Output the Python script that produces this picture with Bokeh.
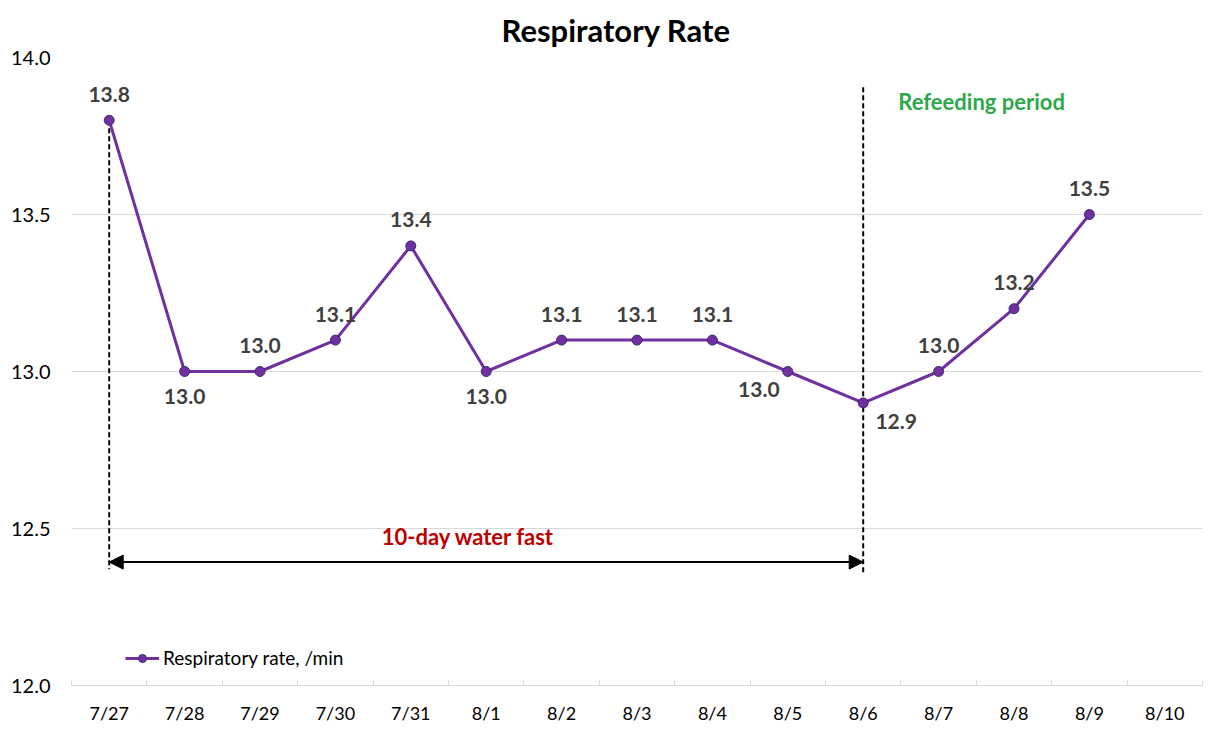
import numpy as np
from bokeh.core.properties import value
from bokeh.embed import file_html
from bokeh.models import (Arrow, ColumnDataSource, FixedTicker, Legend, LegendItem,
                          NormalHead, NumeralTickFormatter)
from bokeh.plotting import figure
from bokeh.resources import INLINE

# Data
dates = ["7/27", "7/28", "7/29", "7/30", "7/31", "8/1", "8/2", "8/3",
         "8/4", "8/5", "8/6", "8/7", "8/8", "8/9", "8/10"]
rates = [13.8, 13.0, 13.0, 13.1, 13.4, 13.0, 13.1, 13.1, 13.1, 13.0, 12.9, 13.0, 13.2, 13.5]
label_side = ["above", "below", "above", "above", "above", "below", "above", "above",
              "above", "below_left", "below_right", "above", "above", "above"]
y_ticks = [12.0, 12.5, 13.0, 13.5, 14.0]

fast_start, fast_end = "7/27", "8/6"

FONT = "Lato"
PURPLE = "#7030A0"
GREY = "#d9d9d9"

offsets = {"above": (0, -26), "below": (0, 25),
           "below_left": (-29, 18), "below_right": (33, 19)}

idx = list(range(len(rates)))
src = ColumnDataSource(dict(
    x=idx,
    y=rates,
    lbl=[f"{r:.1f}" for r in rates],
    dx=[offsets[s][0] for s in label_side],
    dy=[offsets[s][1] for s in label_side],
))

p = figure(width=1207, height=726, x_range=(-0.5, len(dates) - 0.5), y_range=(12.0, 14.0),
           output_backend="svg", toolbar_location=None, tools="",
           min_border_left=71, min_border_right=5, min_border_bottom=40, min_border_top=57)

p.title.text = "Respiratory Rate"
p.title.align = "left"
p.title.offset = 430
p.title.text_font = FONT
p.title.text_font_size = "31px"
p.title.text_font_style = "bold"
p.title.text_color = "black"
p.title.standoff = 17

p.outline_line_color = None
p.xgrid.grid_line_color = None
p.ygrid.grid_line_color = GREY
p.ygrid.grid_line_width = 1

# x axis: labels at category centres, short ticks between categories
p.xaxis.ticker = FixedTicker(ticks=list(range(len(dates))),
                             minor_ticks=[i - 0.5 for i in range(len(dates) + 1)])
p.xaxis.major_label_overrides = {i: d for i, d in enumerate(dates)}
p.xaxis.axis_line_color = GREY
p.xaxis.major_tick_line_color = None
p.xaxis.major_tick_out = 0
p.xaxis.major_tick_in = 0
p.xaxis.minor_tick_line_color = GREY
p.xaxis.minor_tick_in = 5
p.xaxis.minor_tick_out = 0
p.xaxis.major_label_standoff = 16
p.xaxis.major_label_text_font = FONT
p.xaxis.major_label_text_font_size = "18px"
p.xaxis.major_label_text_line_height = 1.0
p.xaxis.major_label_text_color = "black"

p.yaxis.ticker = FixedTicker(ticks=y_ticks)
p.yaxis.formatter = NumeralTickFormatter(format="0.0")
p.yaxis.axis_line_color = None
p.yaxis.major_tick_line_color = None
p.yaxis.major_tick_out = 0
p.yaxis.minor_tick_line_color = None
p.yaxis.major_label_standoff = 21
p.yaxis.major_label_text_font = FONT
p.yaxis.major_label_text_font_size = "20px"
p.yaxis.major_label_text_color = "black"

# period annotations
xs, xe = dates.index(fast_start), dates.index(fast_end)
p.segment(x0=[xs, xe], y0=[rates[xs], 13.905], x1=[xs, xe], y1=[12.37, 12.36],
          line_color="black", line_width=2, line_dash="5 3")
p.add_layout(Arrow(start=NormalHead(size=14, fill_color="black", line_color="black"),
                   end=NormalHead(size=14, fill_color="black", line_color="black"),
                   x_start=xs, x_end=xe, y_start=12.393, y_end=12.393,
                   line_color="black", line_width=2))
p.text(x=[(xs + xe) / 2 - 0.24], y=[12.476], text=["10-day water fast"],
       text_font=value(FONT), text_font_size="22px", text_font_style="bold",
       text_color="#C00000", text_align="center", text_baseline="middle")
p.text(x=[11.57], y=[13.86], text=["Refeeding period"],
       text_font=value(FONT), text_font_size="22px", text_font_style="bold",
       text_color="#2EA84A", text_align="center", text_baseline="middle")

# series
ln = p.line("x", "y", source=src, line_color=PURPLE, line_width=3)
pts = p.scatter("x", "y", source=src, size=10, fill_color=PURPLE,
                line_color="#3A2A78", line_width=1)
p.text("x", "y", text="lbl", source=src, x_offset="dx", y_offset="dy",
       text_font=value(FONT), text_font_size="21px", text_font_style="bold",
       text_color="#404040", text_align="center", text_baseline="middle")

legend = Legend(items=[LegendItem(label="Respiratory rate, /min", renderers=[ln, pts])],
                location=(54, 16), orientation="horizontal")
legend.border_line_color = None
legend.background_fill_alpha = 0
legend.padding = 0
legend.margin = 0
legend.glyph_width = 34
legend.label_standoff = 4
legend.label_text_font = FONT
legend.label_text_font_size = "19px"
legend.label_text_color = "black"
p.add_layout(legend)

open("out.html", "w").write(file_html(p, INLINE))
